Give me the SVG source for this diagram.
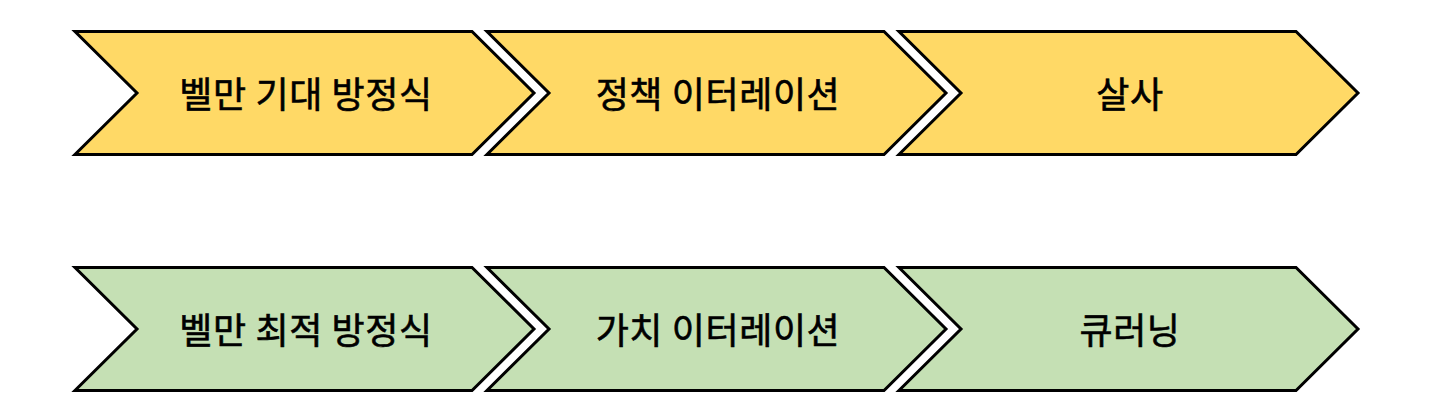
<svg xmlns="http://www.w3.org/2000/svg" width="1439" height="419" viewBox="0 0 1439 419">
<style>
.y{fill:#FFD966;stroke:#000;stroke-width:3;stroke-linejoin:miter}
.g{fill:#C5E0B4;stroke:#000;stroke-width:3;stroke-linejoin:miter}
text{font-family:"Noto Sans CJK KR","Noto Sans",sans-serif;font-size:36px;font-weight:400;fill:#000;stroke:#000;stroke-width:0.6;letter-spacing:0.6px;text-anchor:middle;dominant-baseline:central}
</style>
<defs>
<path id="chev" d="M0,0 H397 L459,61.5 L397,123 H0 L62,61.5 Z"/>
</defs>
<rect width="1439" height="419" fill="#fff"/>
<g id="n1" transform="translate(75,31.5)"><use href="#chev" class="y"/><text x="231" y="60.5">벨만 기대 방정식</text></g>
<g id="n2" transform="translate(487,31.5)"><use href="#chev" class="y"/><text x="231" y="60.5">정책 이터레이션</text></g>
<g id="n3" transform="translate(899,31.5)"><use href="#chev" class="y"/><text x="231" y="60.5">살사</text></g>
<g id="n4" transform="translate(75,267.5)"><use href="#chev" class="g"/><text x="231" y="60.5">벨만 최적 방정식</text></g>
<g id="n5" transform="translate(487,267.5)"><use href="#chev" class="g"/><text x="231" y="60.5">가치 이터레이션</text></g>
<g id="n6" transform="translate(899,267.5)"><use href="#chev" class="g"/><text x="231" y="60.5">큐러닝</text></g>
<g id="connectors"/>
</svg>
